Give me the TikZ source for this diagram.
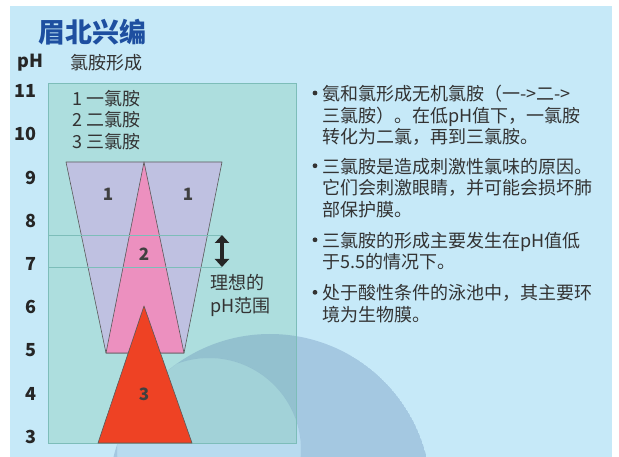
\documentclass[tikz,border=0pt]{standalone}
\usepackage{fontspec}
\setmainfont{Noto Sans CJK SC}
\usetikzlibrary{positioning}
\usetikzlibrary{arrows.meta}
\definecolor{slide}{HTML}{C6E9F8}
\definecolor{pool}{HTML}{ADDEDE}
\definecolor{poolline}{HTML}{7DBDB9}
\definecolor{mono}{HTML}{BFC1E1}
\definecolor{di}{HTML}{EC90BF}
\definecolor{tri}{HTML}{EE4224}
\definecolor{titleblue}{HTML}{1E4FA0}
\definecolor{swoosh}{HTML}{587EAF}
\definecolor{ink}{HTML}{333333}

\begin{document}
\begin{tikzpicture}[x=1pt, y=-1pt, text=ink, font=\fontsize{18}{21.5}\selectfont, node distance=13pt]
			\tikzstyle{zone}=[draw=black!65, line width=0.6pt, line join=round]
			\tikzstyle{guide}=[draw=poolline, line width=0.9pt]
			\tikzstyle{axis}=[anchor=east, inner sep=0pt, text=black!85, font=\fontsize{18}{20}\selectfont\bfseries]
			\tikzstyle{tag}=[inner sep=0pt, text=black!75, font=\fontsize{17}{20}\selectfont\bfseries]
			\tikzstyle{item}=[align=left, inner sep=0pt]
			
			\useasboundingbox (0,0) rectangle (619,457);
			\fill[slide] (10,6) rectangle (612,457);
			\fill[pool] (48,83) rectangle (296,443);
			\begin{scope}
				\clip (10,6) rectangle (612,457);
				\clip (270,495) circle[radius=161];
				\fill[swoosh, fill opacity=0.3, even odd rule] (270,495) circle[radius=161] (209,450) circle[radius=92];
				\fill[swoosh, fill opacity=0.12] (209,450) circle[radius=92];
			\end{scope}
			\draw[poolline] (48,83) rectangle (296,443);
			
			\node[anchor=west, inner sep=0pt, text=titleblue, font=\fontsize{27}{30}\selectfont\bfseries] (title) at (38,32) {眉北兴编};
			\node[anchor=west, inner sep=0pt, text=black!85, font=\fontsize{18}{20}\selectfont\bfseries] (ph) at (17,63) {pH};
			\node[anchor=west, inner sep=0pt] (head) at (70,63) {氯胺形成};
			\foreach \p in {3,...,11}
				\node[axis] (ph\p) at (37,{437-(\p-3)*43.25}) {\p};
			
			\node[item, anchor=north west] (legend) at (72,90) {1 一氯胺\\2 二氯胺\\3 三氯胺};
			
			\filldraw[zone, fill=mono] (66,162) -- (222,162) -- (184,353) -- (106,353) -- cycle;
			\filldraw[zone, fill=di] (144,162) -- (184,353) -- (106,353) -- cycle;
			\filldraw[zone, fill=tri] (144,306) -- (192,443) -- (98,443) -- cycle;
			\node[tag] (mono1) at (108,194) {1};
			\node[tag] (mono2) at (188,194) {1};
			\node[tag] (di1) at (144,254) {2};
			\node[tag] (tri1) at (144,394) {3};
			
			\coordinate (hiL) at (48,235);
			\coordinate (loL) at (48,267);
			\coordinate (hi) at (222,235);
			\coordinate (lo) at (222,267);
			\draw[guide] (hiL) -- (hi);
			\draw[guide] (loL) -- (lo);
			\draw[{Triangle[width=14pt,length=8pt]}-{Triangle[width=14pt,length=8pt]}, line width=3.2pt, draw=black!85] (hi) -- (lo);
			\node[item, anchor=north west, font=\fontsize{18}{23}\selectfont] (ideal) at (210,274) {理想的\\pH范围};
			
			\node[item, anchor=north west] (b1) at (322,85) {氨和氯形成无机氯胺（一->二->\\三氯胺）。在低pH值下，一氯胺\\转化为二氯，再到三氯胺。};
			\node[item, below right=12pt and 0pt of b1.south west] (b2) {三氯胺是造成刺激性氯味的原因。\\它们会刺激眼睛，并可能会损坏肺\\部保护膜。};
			\node[item, below right=14pt and 0pt of b2.south west] (b3) {三氯胺的形成主要发生在pH值低\\于5.5的情况下。};
			\node[item, below right=14pt and 0pt of b3.south west] (b4) {处于酸性条件的泳池中，其主要环\\境为生物膜。};
			\foreach \b in {b1,b2,b3,b4}
				\fill[ink] ([shift={(-7,8)}]\b.north west) circle[radius=2.4];
\end{tikzpicture}
\end{document}
